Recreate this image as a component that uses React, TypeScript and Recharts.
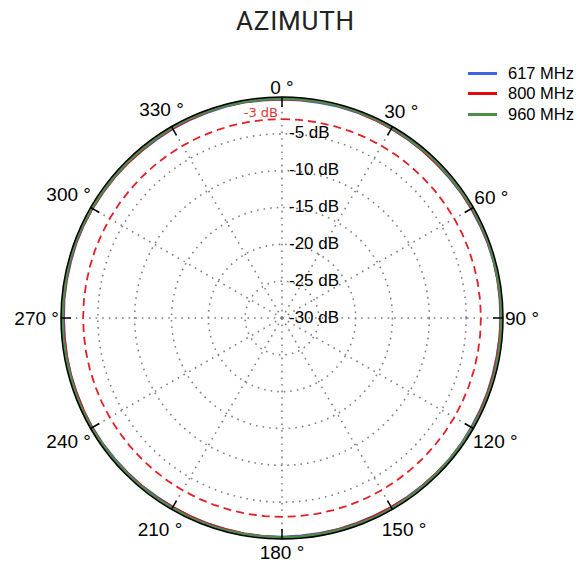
import {
  RadarChart,
  Radar,
  PolarGrid,
  PolarAngleAxis,
  PolarRadiusAxis,
} from "recharts";

// azimuth angles (deg, clockwise from top)
const angles = [
  0, 5, 10, 15, 20, 25, 30, 35, 40, 45, 50, 55, 60, 65, 70, 75, 80, 85, 90, 95,
  100, 105, 110, 115, 120, 125, 130, 135, 140, 145, 150, 155, 160, 165, 170, 175,
  180, 185, 190, 195, 200, 205, 210, 215, 220, 225, 230, 235, 240, 245, 250, 255,
  260, 265, 270, 275, 280, 285, 290, 295, 300, 305, 310, 315, 320, 325, 330, 335,
  340, 345, 350, 355,
];

// normalized gain in dB
const gain617 = [
  -0.3, -0.3, -0.3, -0.25, -0.25, -0.25, -0.3, -0.3, -0.3, -0.35, -0.35, -0.3,
  -0.3, -0.3, -0.25, -0.25, -0.25, -0.3, -0.3, -0.3, -0.35, -0.35, -0.3, -0.3,
  -0.3, -0.25, -0.25, -0.25, -0.3, -0.3, -0.3, -0.35, -0.35, -0.3, -0.3, -0.3,
  -0.25, -0.25, -0.25, -0.3, -0.3, -0.3, -0.35, -0.35, -0.3, -0.3, -0.3, -0.25,
  -0.25, -0.25, -0.3, -0.3, -0.3, -0.35, -0.35, -0.3, -0.3, -0.3, -0.25, -0.25,
  -0.25, -0.3, -0.3, -0.3, -0.35, -0.35, -0.3, -0.3, -0.3, -0.25, -0.25, -0.3,
];
const gain800 = [
  -0.25, -0.25, -0.2, -0.2, -0.2, -0.25, -0.25, -0.25, -0.3, -0.3, -0.25, -0.25,
  -0.25, -0.2, -0.2, -0.2, -0.25, -0.25, -0.25, -0.3, -0.3, -0.25, -0.25, -0.25,
  -0.2, -0.2, -0.2, -0.25, -0.25, -0.25, -0.3, -0.3, -0.25, -0.25, -0.25, -0.2,
  -0.2, -0.2, -0.25, -0.25, -0.25, -0.3, -0.3, -0.25, -0.25, -0.25, -0.2, -0.2,
  -0.2, -0.25, -0.25, -0.25, -0.3, -0.3, -0.25, -0.25, -0.25, -0.2, -0.2, -0.2,
  -0.25, -0.25, -0.25, -0.3, -0.3, -0.25, -0.25, -0.25, -0.2, -0.2, -0.2, -0.25,
];
const gain960 = [
  -0.2, -0.2, -0.2, -0.15, -0.15, -0.15, -0.2, -0.2, -0.2, -0.2, -0.2, -0.2,
  -0.15, -0.15, -0.15, -0.2, -0.2, -0.2, -0.2, -0.2, -0.2, -0.15, -0.15, -0.15,
  -0.2, -0.2, -0.2, -0.2, -0.2, -0.2, -0.15, -0.15, -0.15, -0.2, -0.2, -0.2,
  -0.2, -0.2, -0.2, -0.15, -0.15, -0.15, -0.2, -0.2, -0.2, -0.2, -0.2, -0.2,
  -0.15, -0.15, -0.15, -0.2, -0.2, -0.2, -0.2, -0.2, -0.2, -0.15, -0.15, -0.15,
  -0.2, -0.2, -0.2, -0.2, -0.2, -0.2, -0.15, -0.15, -0.15, -0.2, -0.2, -0.2,
];
// -3 dB reference ring
const halfPower = [
  -3, -3, -3, -3, -3, -3, -3, -3, -3, -3, -3, -3, -3, -3, -3, -3, -3, -3, -3, -3,
  -3, -3, -3, -3, -3, -3, -3, -3, -3, -3, -3, -3, -3, -3, -3, -3, -3, -3, -3, -3,
  -3, -3, -3, -3, -3, -3, -3, -3, -3, -3, -3, -3, -3, -3, -3, -3, -3, -3, -3, -3,
  -3, -3, -3, -3, -3, -3, -3, -3, -3, -3, -3, -3,
];

const angleTicks = [0, 30, 60, 90, 120, 150, 180, 210, 240, 270, 300, 330];
const radiusTicks = [-30, -25, -20, -15, -10, -5];
const seriesNames = ["617 MHz", "800 MHz", "960 MHz"];
const seriesKeys = ["s617", "s800", "s960"];
const seriesColors = ["#3a66dd", "#e00a0c", "#4e8c4e"];

const data = angles.map((angle, i) => ({
  angle,
  s617: gain617[i],
  s800: gain800[i],
  s960: gain960[i],
  ref: halfPower[i],
}));

const W = 571;
const H = 557;
const CX = 274;
const CY = 310;
const R = 221;

const AngleTick = (props: any) => {
  const { payload } = props;
  const cx = typeof props.cx === "number" ? props.cx : CX;
  const cy = typeof props.cy === "number" ? props.cy : CY;
  const radius = typeof props.radius === "number" ? props.radius : R;
  const a = (payload.coordinate * Math.PI) / 180;
  const ux = Math.cos(a);
  const uy = -Math.sin(a);
  const digits = String(payload.value).length;
  const halfW = (digits * 10.6 + 12.9) / 2;
  const d =
    radius + 2 + Math.abs(ux) * halfW + Math.abs(uy) * 8 + (uy > 0.5 ? 3 : 0);
  return (
    <g>
      <line
        x1={cx + ux * radius}
        y1={cy + uy * radius}
        x2={cx + ux * (radius - 10)}
        y2={cy + uy * (radius - 10)}
        stroke="#000"
        strokeWidth={1.5}
      />
      <text
        x={cx + ux * d}
        y={cy + uy * d}
        textAnchor="middle"
        dominantBaseline="central"
        fontSize={19}
        fill="#000"
      >
        {`${payload.value} °`}
      </text>
    </g>
  );
};

const RadiusTick = (props: any) => {
  const { x, y, payload } = props;
  return (
    <text
      x={x + 7}
      y={y - 1}
      dominantBaseline="central"
      fontSize={17}
      fill="#000"
    >
      {`${payload.value} dB`}
    </text>
  );
};

const RefLabel = (props: any) => {
  const { x, y, index } = props;
  if (index !== 0) return null;
  return (
    <text
      x={x - 4}
      y={y - 2}
      textAnchor="end"
      fontSize={13}
      fontFamily="'DejaVu Sans', sans-serif"
      fill="#e03636"
    >
      -3 dB
    </text>
  );
};

export default function App() {
  return (
    <div
      style={{
        position: "relative",
        width: W,
        height: H,
        fontFamily: "'Liberation Sans', Arial, sans-serif",
      }}
    >
      <style>{`body { margin-bottom: 0; overflow: hidden; }`}</style>
      <div
        style={{
          position: "absolute",
          top: -3,
          left: 2,
          width: W,
          textAlign: "center",
          fontFamily: "Roboto, sans-serif",
          fontWeight: 400,
          fontSize: 26,
          lineHeight: "32px",
          letterSpacing: 0.8,
          color: "#222",
        }}
      >
        AZIMUTH
      </div>

      <div style={{ position: "absolute", top: 0, left: 0 }}>
        <RadarChart
          width={W}
          height={H}
          data={data}
          cx={CX}
          cy={CY}
          outerRadius={R}
          startAngle={90}
          endAngle={-270}
          margin={{ top: 0, right: 0, bottom: 0, left: 0 }}
        >
          <PolarGrid
            gridType="circle"
            stroke="#808080"
            strokeWidth={1.6}
            strokeDasharray="1.6 5"
          />
          <PolarRadiusAxis
            type="number"
            domain={[-30, 0]}
            ticks={radiusTicks}
            angle={90}
            axisLine={false}
            tickLine={false}
            tick={RadiusTick}
          />
          <Radar
            dataKey="ref"
            stroke="#e41f26"
            strokeWidth={1.8}
            strokeDasharray="8 5"
            fill="none"
            fillOpacity={0}
            dot={false}
            legendType="none"
            label={RefLabel}
            isAnimationActive={false}
          />
          {seriesKeys.map((key, i) => (
            <Radar
              key={key}
              name={seriesNames[i]}
              dataKey={key}
              stroke={seriesColors[i]}
              strokeWidth={2.8}
              fill="none"
              fillOpacity={0}
              dot={false}
              isAnimationActive={false}
            />
          ))}
          <PolarAngleAxis
            type="number"
            dataKey="angle"
            domain={[0, 360]}
            ticks={angleTicks}
            axisLineType="circle"
            axisLine={{ stroke: "#000", strokeWidth: 1.5 }}
            tickLine={false}
            tick={AngleTick}
          />
        </RadarChart>
      </div>

      <div style={{ position: "absolute", top: 55, left: 460 }}>
        {seriesNames.map((name, i) => (
          <div
            key={name}
            style={{
              display: "flex",
              alignItems: "center",
              height: 20.5,
              fontSize: 16.5,
              color: "#000",
            }}
          >
            <span
              style={{
                display: "inline-block",
                width: 29,
                height: 3,
                background: seriesColors[i],
                marginRight: 11,
              }}
            />
            {name}
          </div>
        ))}
      </div>
    </div>
  );
}
